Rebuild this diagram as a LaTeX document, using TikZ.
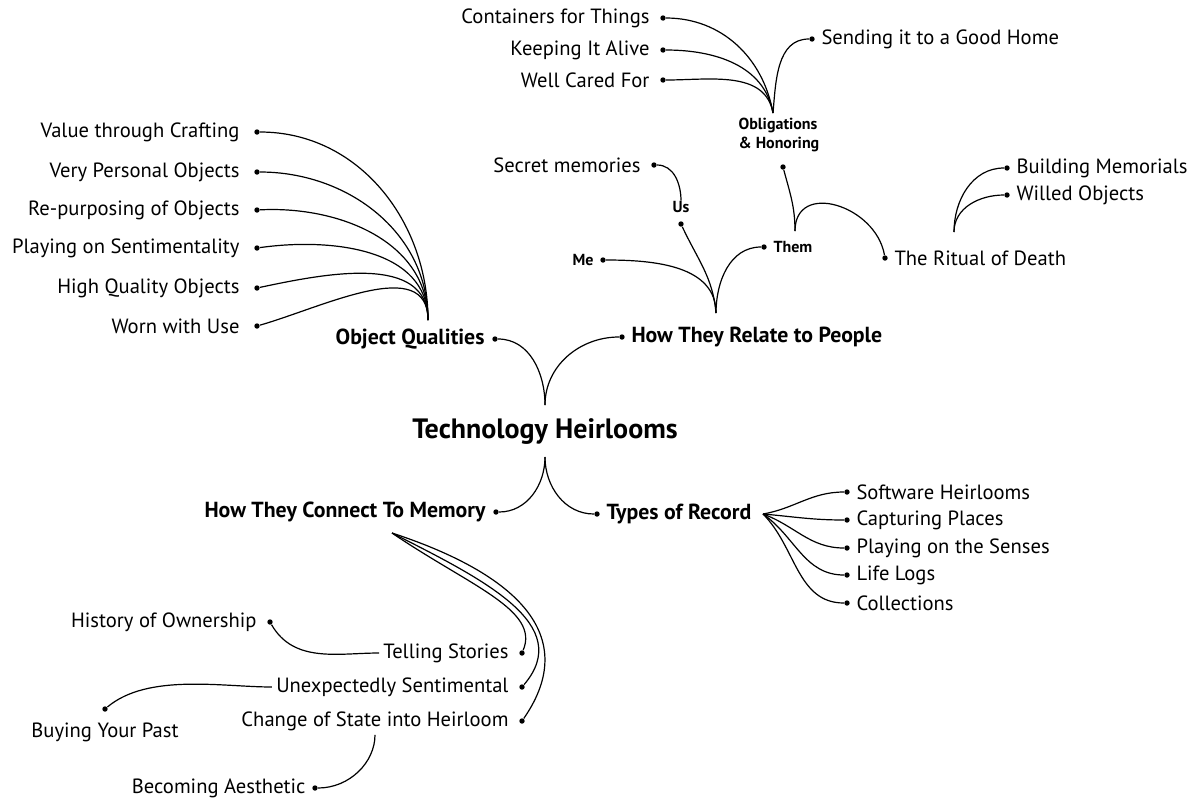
\documentclass[tikz,border=0pt]{standalone}
\usepackage{fontspec}
\setmainfont{PT Sans}
\usetikzlibrary{positioning}
\tikzset{
  dot/.style={circle, fill, inner sep=0pt, minimum size=2.7pt},
  leaf/.style={inner sep=0pt, font=\fontsize{10.3}{12}\selectfont},
  topic/.style={inner sep=0pt, font=\bfseries\fontsize{10.9}{13}\selectfont},
  minor/.style={inner sep=0pt, align=left, font=\bfseries\fontsize{8}{9.5}\selectfont},
  link/.style={line width=0.6pt}
}
\begin{document}
\begin{tikzpicture}[x=0.5pt, y=-0.5pt, node distance=3pt]
\useasboundingbox (0,0) rectangle (1191,800);
\node[inner sep=0pt, font=\bfseries\fontsize{14}{16}\selectfont] (th) at (545,432) {Technology Heirlooms};
\coordinate (th-up) at (545,405);
\coordinate (th-dn) at (545,457);
\node[dot] (oq-d) at (495,339) {};
\node[topic, left=3.5pt of oq-d] (oq) {Object Qualities};
\node[dot] (htr-d) at (622,337) {};
\node[topic, right=3pt of htr-d] (htr) {How They Relate to People};
\node[dot] (hcm-d) at (496,512) {};
\node[topic, left=3.5pt of hcm-d] (hcm) {How They Connect To Memory};
\node[dot] (tr-d) at (597,514) {};
\node[topic, right=3pt of tr-d] (tr) {Types of Record};
\coordinate (oq-b) at (428,320);
\node[dot] (oq1-d) at (257,132) {};
\node[leaf, left=7pt of oq1-d] (oq1) {Value through Crafting};
\node[dot] (oq2-d) at (257,172) {};
\node[leaf, left=7pt of oq2-d] (oq2) {Very Personal Objects};
\node[dot] (oq3-d) at (257,210) {};
\node[leaf, left=7pt of oq3-d] (oq3) {Re-purposing of Objects};
\node[dot] (oq4-d) at (257,248) {};
\node[leaf, left=7pt of oq4-d] (oq4) {Playing on Sentimentality};
\node[dot] (oq5-d) at (257,288) {};
\node[leaf, left=7pt of oq5-d] (oq5) {High Quality Objects};
\node[dot] (oq6-d) at (257,326) {};
\node[leaf, left=7pt of oq6-d] (oq6) {Worn with Use};
\coordinate (htr-b) at (716,313);
\node[dot] (me-d) at (603,260) {};
\node[minor, left=3pt of me-d] (me) {Me};
\node[dot] (us-d) at (681,224) {};
\node[minor, above=4pt of us-d] (us) {Us};
\node[dot] (sm-d) at (654,165) {};
\node[leaf, left=5pt of sm-d] (sm) {Secret memories};
\node[dot] (them-d) at (764,247) {};
\node[minor, right=3pt of them-d] (them) {Them};
\coordinate (them-b) at (795,231);
\node[dot] (ob-d) at (783,167) {};
\node[minor, above=6pt of ob-d, xshift=-2pt] (ob) {Obligations\\\& Honoring};
\coordinate (ob-b) at (773,113);
\node[dot] (ct-d) at (663,18) {};
\node[leaf, left=5pt of ct-d] (ct) {Containers for Things};
\node[dot] (ka-d) at (663,50) {};
\node[leaf, left=5pt of ka-d] (ka) {Keeping It Alive};
\node[dot] (wc-d) at (663,80) {};
\node[leaf, left=5pt of wc-d] (wc) {Well Cared For};
\node[dot] (sg-d) at (812,39) {};
\node[leaf, right=3pt of sg-d] (sg) {Sending it to a Good Home};
\node[dot] (rd-d) at (885,258) {};
\node[leaf, right=3pt of rd-d] (rd) {The Ritual of Death};
\coordinate (rd-b) at (954,232);
\node[dot] (bm-d) at (1007,168) {};
\node[leaf, right=3pt of bm-d] (bm) {Building Memorials};
\node[dot] (wo-d) at (1007,195) {};
\node[leaf, right=3pt of wo-d] (wo) {Willed Objects};
\coordinate (hcm-b) at (392,533);
\node[dot] (ts-d) at (522,653) {};
\node[leaf, left=5pt of ts-d] (ts) {Telling Stories};
\node[dot] (ue-d) at (522,687) {};
\node[leaf, left=5pt of ue-d] (ue) {Unexpectedly Sentimental};
\node[dot] (cs-d) at (522,721) {};
\node[leaf, left=5pt of cs-d] (cs) {Change of State into Heirloom};
\node[dot] (ho-d) at (270,622) {};
\node[leaf, left=5pt of ho-d] (ho) {History of Ownership};
\node[dot] (bp-d) at (105,709) {};
\node[leaf, below=5pt of bp-d] (bp) {Buying Your Past};
\node[dot] (ba-d) at (315,788) {};
\node[leaf, left=3pt of ba-d] (ba) {Becoming Aesthetic};
\coordinate (tr-b) at (763,514);
\node[dot] (sh-d) at (847,492) {};
\node[leaf, right=3pt of sh-d] (sh) {Software Heirlooms};
\node[dot] (cp-d) at (847,520) {};
\node[leaf, right=3pt of cp-d] (cp) {Capturing Places};
\node[dot] (ps-d) at (847,548) {};
\node[leaf, right=3pt of ps-d] (ps) {Playing on the Senses};
\node[dot] (ll-d) at (847,575) {};
\node[leaf, right=3pt of ll-d] (ll) {Life Logs};
\node[dot] (cl-d) at (847,603) {};
\node[leaf, right=3pt of cl-d] (cl) {Collections};
\draw[link] (th-up) to[out=90, in=0] (oq-d);
\draw[link] (th-up) to[out=90, in=180] (htr-d);
\draw[link] (th-dn) to[out=-90, in=0] (hcm-d);
\draw[link] (th-dn) to[out=-90, in=180] (tr-d);
\draw[link] (oq-b) to[out=90, in=0] (oq1-d);
\draw[link] (oq-b) to[out=90, in=0] (oq2-d);
\draw[link] (oq-b) to[out=90, in=3] (oq3-d);
\draw[link] (oq-b) to[out=90, in=8] (oq4-d);
\draw[link] (oq-b) to[out=90, in=12] (oq5-d);
\draw[link] (oq-b) to[out=90, in=16] (oq6-d);
\draw[link] (htr-b) to[out=90, in=0] (me-d);
\draw[link] (htr-b) to[out=95, in=-65] (us-d);
\draw[link] (htr-b) to[out=90, in=180] (them-d);
\draw[link] (us) to[out=90, in=0] (sm-d);
\draw[link] (them-b) to[out=90, in=-75] (ob-d);
\draw[link] (them-b) to[out=90, in=100, looseness=1.4] (rd-d);
\draw[link] (ob-b) to[out=100, in=0] (ct-d);
\draw[link] (ob-b) to[out=100, in=0] (ka-d);
\draw[link] (ob-b) to[out=100, in=0] (wc-d);
\draw[link] (ob-b) to[out=85, in=180] (sg-d);
\draw[link] (rd-b) to[out=90, in=180] (bm-d);
\draw[link] (rd-b) to[out=90, in=180] (wo-d);
\draw[link] (hcm-b) .. controls (470,586) and (540,610) .. (ts-d);
\draw[link] (hcm-b) .. controls (485,580) and (575,625) .. (ue-d);
\draw[link] (hcm-b) .. controls (505,570) and (585,630) .. (cs-d);
\draw[link, shorten <=2pt] (ts) to[out=180, in=-60] (ho-d);
\draw[link, shorten <=2pt] (ue) to[out=180, in=40, looseness=0.8] (bp-d);
\draw[link, shorten <=2pt] (cs) to[out=-90, in=0] (ba-d);
\draw[link] (tr-b) to[out=10, in=180] (sh-d);
\draw[link] (tr-b) to[out=-5, in=180] (cp-d);
\draw[link] (tr-b) to[out=-20, in=180] (ps-d);
\draw[link] (tr-b) to[out=-35, in=180] (ll-d);
\draw[link] (tr-b) to[out=-45, in=180] (cl-d);
\end{tikzpicture}
\end{document}
